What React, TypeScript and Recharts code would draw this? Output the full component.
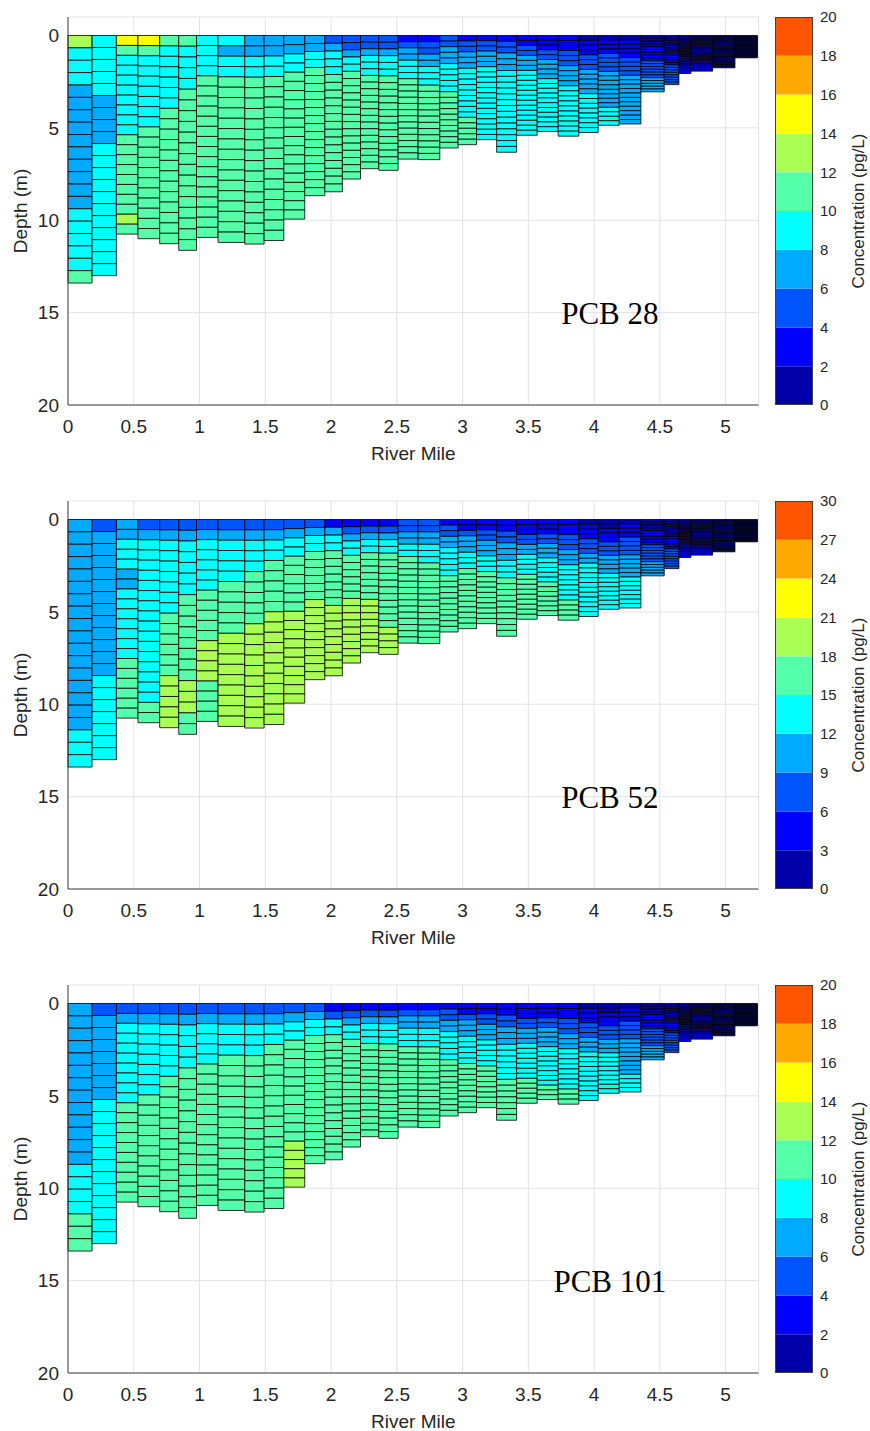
import React from 'react';
import { ComposedChart, BarChart, Bar, XAxis, YAxis, CartesianGrid, ReferenceArea, ReferenceDot } from 'recharts';

// river mile at each edge of the model grid columns
const columnEdges = [0, 0.183, 0.368, 0.532, 0.697, 0.842, 0.977, 1.141, 1.344, 1.491, 1.641, 1.8, 1.953, 2.086, 2.224, 2.363, 2.51, 2.662, 2.827, 2.966, 3.106, 3.259, 3.411, 3.567, 3.727, 3.884, 4.031, 4.191, 4.356, 4.533, 4.645, 4.736, 4.901, 5.071, 5.242];

// bed depth (m) of each column, 20 sigma layers in each
const columnDepths = [13.4, 13.0, 10.75, 11.0, 11.27, 11.63, 10.93, 11.2, 11.29, 11.1, 9.94, 8.67, 8.46, 7.77, 7.21, 7.3, 6.69, 6.72, 6.09, 5.91, 5.64, 6.32, 5.4, 5.2, 5.45, 5.25, 4.86, 4.79, 3.05, 2.66, 2.06, 1.93, 1.75, 1.21];

const LAYERS = 20;

// colour bin per layer (top -> bottom), one string per column
const pcb28Levels = [
  '64443333333333444445', '44444333344444444444', '75444444445555555565', '75444444455555555555',
  '54444445555555555555', '54444555555555555555', '44445555555555555555', '43445555555555555555',
  '33445555555555555555', '33445555555555555555', '33445555555555555555', '33445555555555555555',
  '23444555555555555555', '22344555555555555555', '22344455555555555555', '22344455555555555555',
  '12334445555555555555', '12233444555555555555', '22333444445555555555', '12233344444444455555',
  '12233344444444444444', '12233344444444444444', '11223334444444444444', '11122333344444444444',
  '11122233334444444444', '01112223333344444444', '01112222333333334444', '01111222233333333333',
  '00001111122222233333', '00000001111122222222', '00000000000111111111', '00000000000000111111',
  '00000000000000000000', '00000000000000000000',
];

const pcb52Levels = [
  '33333333333333333444', '23333333333334444444', '33444334444444555555', '23444444444444444455',
  '23444444455555566666', '23444445555555566655', '23444445555566665555', '23444455555666666666',
  '23444555556666666666', '23445555566666666666', '23445555556666666666', '23445555556666666666',
  '13445555555666666666', '12344555555666666666', '12344555555566666666', '12344555555555556666',
  '22334455555555555555', '22334445555555555555', '12233444445555555555', '11233344455555555555',
  '11223334445555555555', '11223334445555555555', '11122334444555555555', '11122333444445555555',
  '11122233344444445555', '01112223344444444444', '00111222333344444444', '01112222333334444444',
  '00001111122222233333', '00000001111122222222', '00000000000111111111', '00000000000000111111',
  '00000000000000000000', '00000000000000000000',
];

const pcb101Levels = [
  '33333333333334444555', '23333333444444444444', '23444444445555555555', '23444444455555555555',
  '23444445555555555555', '23444455555555555555', '23444455555555555555', '23444555555555555555',
  '23444555555555555555', '23445555555555555555', '23445555555555566666', '23445555555555555555',
  '12445555555555555555', '12344555555555555555', '12344455555555555555', '12344455555555555555',
  '12334445555555555555', '12334445555555555555', '12233444445555555555', '11233344444555555555',
  '11223334444455555555', '11223334444445555555', '11122333444444455555', '11122333344444444555',
  '11122233344444444555', '01112223334444444444', '00111222333444444444', '01112222333333334444',
  '00001111122222233333', '00000001111122222222', '00000000000111111111', '00000000000000111111',
  '00000000000000000000', '00000000000000000000',
];

const binColors = ['#0000AA', '#0000FF', '#0055FF', '#00AAFF', '#00FFFF', '#55FFAA', '#AAFF55', '#FFFF00', '#FFAA00', '#FF5500'];

const mileTicks = [0, 0.5, 1, 1.5, 2, 2.5, 3, 3.5, 4, 4.5, 5];
const depthTicks = [0, 5, 10, 15, 20];
const conc20Ticks = [0, 2, 4, 6, 8, 10, 12, 14, 16, 18, 20];
const conc30Ticks = [0, 3, 6, 9, 12, 15, 18, 21, 24, 27, 30];

const FONT = "'Liberation Sans', Arial, sans-serif";
const TEXT = '#262626';
const PLOT_H = 388;

const buildCells = (levels: string[]) =>
  levels.flatMap((col, i) => {
    const h = columnDepths[i] / LAYERS;
    return col.split('').map((d, k) => ({
      x1: columnEdges[i],
      x2: columnEdges[i + 1],
      y1: k * h,
      y2: (k + 1) * h,
      bin: Number(d),
    }));
  });

const DepthPanel = ({ top, levels, name }: { top: number; levels: string[]; name: string }) => {
  const cells = buildCells(levels);
  return (
    <div style={{ position: 'absolute', left: 0, top: top - 10 }}>
      <ComposedChart width={870} height={PLOT_H + 72} margin={{ top: 10, right: 111.5, left: 8, bottom: 0 }}>
        <CartesianGrid stroke="#e2e2e2" />
        <XAxis
          type="number"
          dataKey="x"
          domain={[0, 5.25]}
          ticks={mileTicks}
          allowDataOverflow
          height={62}
          tickSize={0}
          tickMargin={15}
          axisLine={{ stroke: '#404040' }}
          tick={{ fontFamily: FONT, fontSize: 19, fill: TEXT }}
          label={{ value: 'River Mile', position: 'insideBottom', offset: 7, fontFamily: FONT, fontSize: 19, fill: TEXT }}
        />
        <YAxis
          type="number"
          dataKey="y"
          domain={[-1, 20]}
          reversed
          ticks={depthTicks}
          allowDataOverflow
          width={60}
          tickSize={0}
          tickMargin={9}
          axisLine={{ stroke: '#404040' }}
          tick={{ fontFamily: FONT, fontSize: 19, fill: TEXT }}
          label={{ value: 'Depth (m)', angle: -90, position: 'insideLeft', offset: 12, fontFamily: FONT, fontSize: 19, fill: TEXT, style: { textAnchor: 'middle' } }}
        />
        {cells.map((c, i) => (
          <ReferenceArea
            key={i}
            x1={c.x1}
            x2={c.x2}
            y1={c.y1}
            y2={c.y2}
            fill={binColors[c.bin]}
            fillOpacity={1}
            stroke="#000"
            strokeOpacity={0.85}
            strokeWidth={0.95}
          />
        ))}
        <ReferenceDot
          x={4.12}
          y={15}
          r={0}
          fill="none"
          stroke="none"
          label={{ value: name, position: 'center', fontFamily: "'Liberation Serif', 'Times New Roman', serif", fontSize: 31, fill: '#000' }}
        />
      </ComposedChart>
    </div>
  );
};

const ColorBar = ({ top, ticks }: { top: number; ticks: number[] }) => {
  const max = ticks[ticks.length - 1];
  // one stacked bar, one segment per colour bin
  const row: Record<string, number | string> = { name: 'bar' };
  binColors.forEach((_, i) => {
    row[`b${i}`] = ticks[i + 1] - ticks[i];
  });
  return (
    <div style={{ position: 'absolute', left: 765, top: top - 10 }}>
      <BarChart width={105} height={PLOT_H + 20} data={[row]} barCategoryGap={0} margin={{ top: 10, right: 0, left: 10, bottom: 10 }}>
        <XAxis dataKey="name" hide />
        <YAxis
          type="number"
          orientation="right"
          domain={[0, max]}
          ticks={ticks}
          allowDataOverflow
          width={57}
          tickSize={0}
          tickMargin={7}
          axisLine={false}
          tick={{ fontFamily: FONT, fontSize: 15, fill: TEXT }}
          label={{ value: 'Concentration (pg/L)', angle: -90, position: 'insideRight', offset: 12, fontFamily: FONT, fontSize: 17, fill: TEXT, style: { textAnchor: 'middle' } }}
        />
        {binColors.map((c, i) => (
          <Bar key={i} dataKey={`b${i}`} stackId="cb" fill={c} isAnimationActive={false} />
        ))}
      </BarChart>
      <div style={{ position: 'absolute', left: 10, top: 10, width: 38, height: PLOT_H, border: '1px solid #404040', boxSizing: 'border-box', pointerEvents: 'none' }} />
    </div>
  );
};

export default function App() {
  return (
    <div style={{ position: 'absolute', left: 0, top: 0, width: 870, height: 1431, background: '#fff' }}>
      <DepthPanel top={17} levels={pcb28Levels} name="PCB 28" />
      <ColorBar top={17} ticks={conc20Ticks} />
      <DepthPanel top={501} levels={pcb52Levels} name="PCB 52" />
      <ColorBar top={501} ticks={conc30Ticks} />
      <DepthPanel top={985} levels={pcb101Levels} name="PCB 101" />
      <ColorBar top={985} ticks={conc20Ticks} />
    </div>
  );
}
